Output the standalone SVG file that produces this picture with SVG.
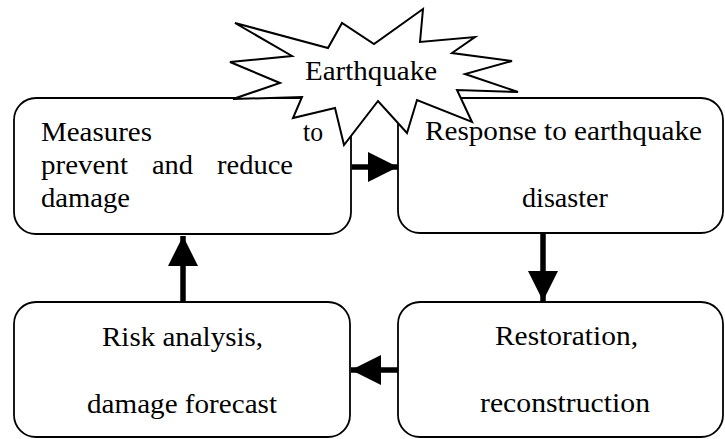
<svg xmlns="http://www.w3.org/2000/svg" width="725" height="439" viewBox="0 0 725 439">
<style>
.box{fill:#fff;stroke:#000;stroke-width:1.8}
.t{font-family:'Liberation Serif','Times New Roman',serif;font-size:27px;fill:#000}
.conn{stroke:#000;stroke-width:5.5;fill:none}
.star{fill:#fff;stroke:#000;stroke-width:2;stroke-linejoin:miter}
</style>
<defs>
<marker id="ah" markerUnits="userSpaceOnUse" markerWidth="31" markerHeight="30" refX="30" refY="15" orient="auto" viewBox="0 0 31 30">
<path d="M0,0 L30,15 L0,30 z" fill="#000"/>
</marker>
</defs>
<g id="node-measures">
<rect class="box" x="14" y="98" width="337" height="136" rx="22" ry="22"/>
<text class="t" x="41" y="141" textLength="111" lengthAdjust="spacingAndGlyphs">Measures</text>
<text class="t" x="303" y="141" textLength="20" lengthAdjust="spacingAndGlyphs">to</text>
<text class="t" x="41" y="174" textLength="87" lengthAdjust="spacingAndGlyphs">prevent</text>
<text class="t" x="152" y="174" textLength="41" lengthAdjust="spacingAndGlyphs">and</text>
<text class="t" x="217" y="174" textLength="76" lengthAdjust="spacingAndGlyphs">reduce</text>
<text class="t" x="41" y="207" textLength="89" lengthAdjust="spacingAndGlyphs">damage</text>
</g>
<g id="node-response">
<rect class="box" x="398" y="98" width="325" height="135" rx="22" ry="22"/>
<text class="t" x="425" y="140" textLength="277" lengthAdjust="spacingAndGlyphs">Response to earthquake</text>
<text class="t" x="522" y="207" textLength="86" lengthAdjust="spacingAndGlyphs">disaster</text>
</g>
<g id="node-risk">
<rect class="box" x="14" y="302" width="336" height="135" rx="22" ry="22"/>
<text class="t" x="102" y="346" textLength="161" lengthAdjust="spacingAndGlyphs">Risk analysis,</text>
<text class="t" x="87" y="413" textLength="190" lengthAdjust="spacingAndGlyphs">damage forecast</text>
</g>
<g id="node-restoration">
<rect class="box" x="398" y="302" width="325" height="135" rx="22" ry="22"/>
<text class="t" x="495" y="345" textLength="143" lengthAdjust="spacingAndGlyphs">Restoration,</text>
<text class="t" x="480" y="412" textLength="170" lengthAdjust="spacingAndGlyphs">reconstruction</text>
</g>
<g id="connectors">
<line class="conn" x1="352" y1="167" x2="398" y2="167" marker-end="url(#ah)"/>
<line class="conn" x1="543" y1="234" x2="543" y2="301" marker-end="url(#ah)"/>
<line class="conn" x1="398" y1="370" x2="351" y2="370" marker-end="url(#ah)"/>
<line class="conn" x1="183" y1="302" x2="183" y2="236" marker-end="url(#ah)"/>
</g>
<g id="node-earthquake">
<polygon class="star" points="235,23 328,48 342,23 374,44 423,9 420,42 475,37 452,53 512,61 465,74 518,92 457,90 472,122 417,100 407,133 378,101 344,145 335,108 293,118 302,97 233,99 280,83 230,62 292,56"/>
<text class="t" x="305" y="80" textLength="132" lengthAdjust="spacingAndGlyphs">Earthquake</text>
</g>
</svg>
